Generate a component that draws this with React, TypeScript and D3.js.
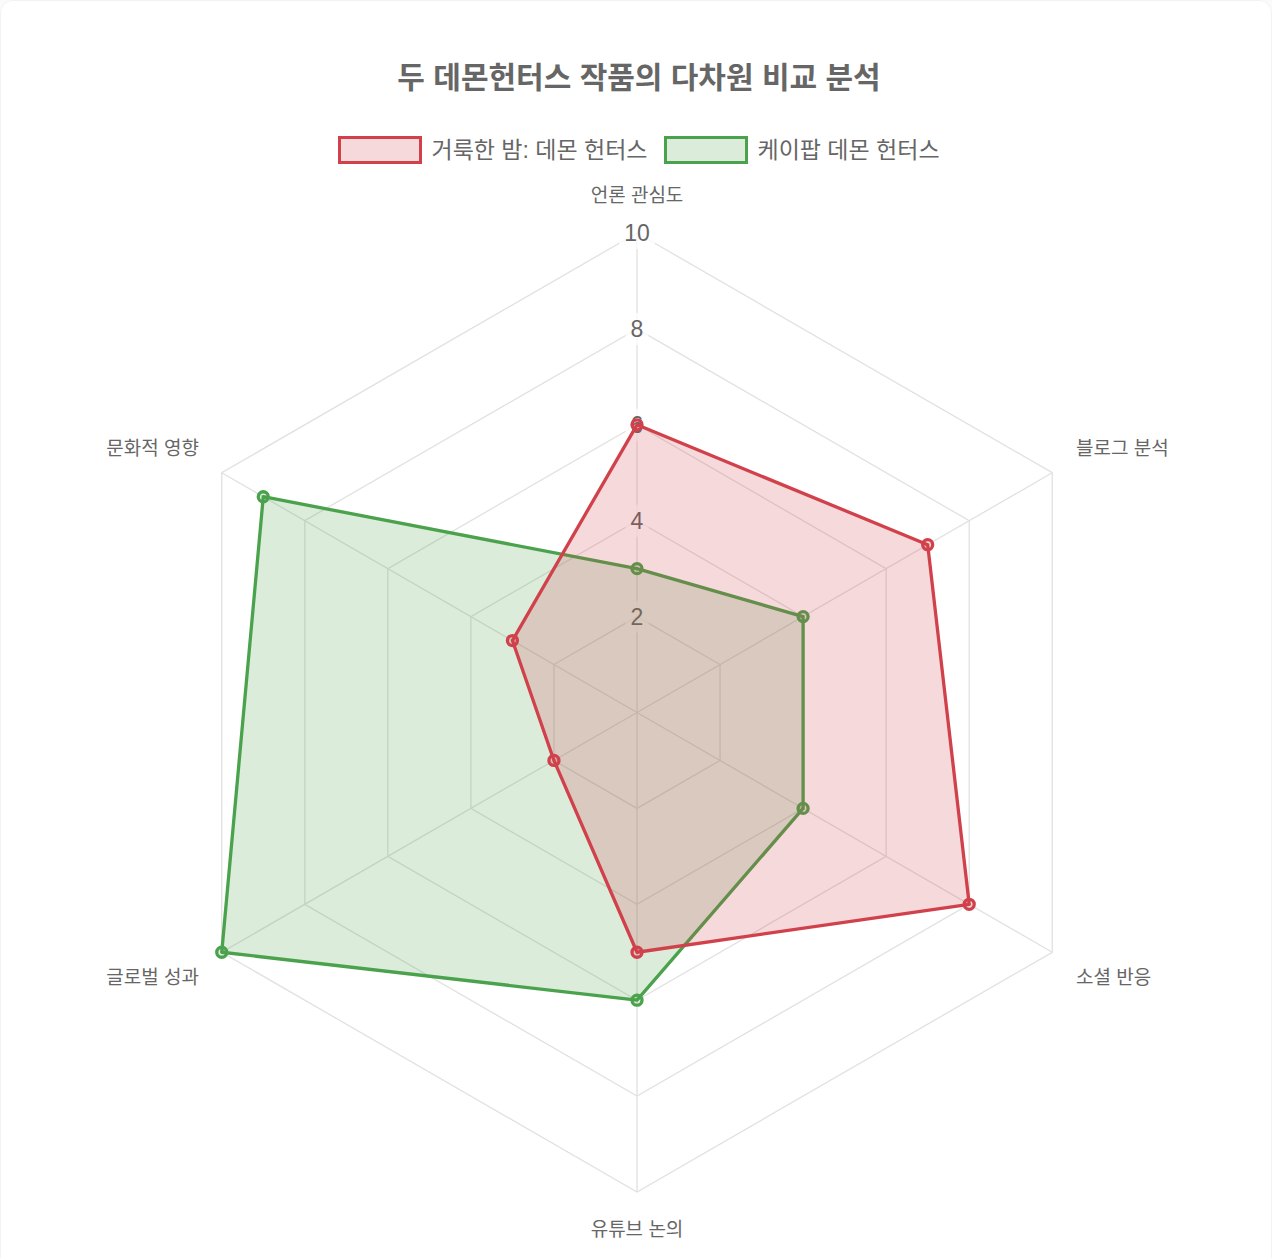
import React, { useEffect, useRef } from 'react'
import * as d3 from 'd3'

const W = 1272
const H = 1258

const title = '두 데몬헌터스 작품의 다차원 비교 분석'
const axes = ['언론 관심도', '블로그 분석', '소셜 반응', '유튜브 논의', '글로벌 성과', '문화적 영향']
const seriesNames = ['거룩한 밤: 데몬 헌터스', '케이팝 데몬 헌터스']
const holyNight = [6, 7, 8, 5, 2, 3]
const kpop = [3, 4, 4, 6, 10, 9]
const ticks = [2, 4, 6, 8, 10]

const colors = ['#d1414b', '#4ba24c']
const fills = ['rgba(209, 65, 75, 0.2)', 'rgba(75, 162, 76, 0.2)']
const textColor = '#666'
const gridColor = '#e1e1e1'
const font = "'Helvetica Neue', Helvetica, Arial, 'Noto Sans CJK KR', sans-serif"

const App: React.FC = () => {
    const ref = useRef<SVGSVGElement>(null)
    useEffect(() => {
        const svg = d3.select(ref.current)
        svg.selectAll('*').remove()
        const cx = 637
        const cy = 712.5
        const r = d3.scaleLinear().domain([0, 10]).range([0, 479.5])
        const angle = (i: number) => (i * 2 * Math.PI) / axes.length - Math.PI / 2
        const pt = (i: number, v: number): [number, number] => [
            cx + r(v) * Math.cos(angle(i)),
            cy + r(v) * Math.sin(angle(i))
        ]

        // card
        svg.append('rect')
            .attr('x', 0.5).attr('y', 0.5)
            .attr('width', W - 1).attr('height', H + 20)
            .attr('rx', 12)
            .attr('fill', '#fff')
            .attr('stroke', '#f3f3f3')

        svg.append('text')
            .attr('x', cx + 2).attr('y', 77)
            .attr('text-anchor', 'middle').attr('dominant-baseline', 'central')
            .attr('font-size', 30).attr('font-weight', 'bold')
            .attr('fill', textColor)
            .text(title)

        // legend
        const legend = svg.append('g')
        const items = [
            { x: 339.5, name: seriesNames[0] },
            { x: 665.5, name: seriesNames[1] }
        ]
        items.forEach((it, i) => {
            legend.append('rect')
                .attr('x', it.x).attr('y', 137.5)
                .attr('width', 81).attr('height', 25)
                .attr('fill', fills[i]).attr('stroke', colors[i]).attr('stroke-width', 3)
            legend.append('text')
                .attr('x', it.x + 92).attr('y', 150)
                .attr('dominant-baseline', 'central')
                .attr('font-size', 23).attr('fill', textColor)
                .text(it.name)
        })

        const grid = svg.append('g')
        const line = d3.line<[number, number]>().curve(d3.curveLinearClosed)
        ticks.forEach((t) => {
            grid.append('path')
                .attr('d', line(axes.map((_, i) => pt(i, t))))
                .attr('fill', 'none').attr('stroke', gridColor).attr('stroke-width', 1.3)
        })
        axes.forEach((_, i) => {
            const [x, y] = pt(i, 10)
            grid.append('line')
                .attr('x1', cx).attr('y1', cy).attr('x2', x).attr('y2', y)
                .attr('stroke', gridColor).attr('stroke-width', 1.3)
        })

        // tick labels with backdrop
        ticks.forEach((t) => {
            const y = cy - r(t)
            const w = t >= 10 ? 36 : 23
            grid.append('rect')
                .attr('x', cx - w / 2).attr('y', y - 16)
                .attr('width', w).attr('height', 32)
                .attr('fill', 'rgba(255,255,255,0.75)')
            grid.append('text')
                .attr('x', cx).attr('y', y)
                .attr('text-anchor', 'middle').attr('dominant-baseline', 'central')
                .attr('font-size', 23).attr('fill', textColor)
                .text(t)
        })

        // point labels
        const labelPos = [
            { x: cx, y: 195, anchor: 'middle' },
            { x: 1076, y: 448, anchor: 'start' },
            { x: 1076, y: 977, anchor: 'start' },
            { x: cx, y: 1229, anchor: 'middle' },
            { x: 199, y: 977, anchor: 'end' },
            { x: 199, y: 448, anchor: 'end' }
        ]
        axes.forEach((a, i) => {
            svg.append('text')
                .attr('x', labelPos[i].x).attr('y', labelPos[i].y)
                .attr('text-anchor', labelPos[i].anchor)
                .attr('dominant-baseline', 'central')
                .attr('font-size', 19).attr('fill', textColor)
                .text(a)
        })

        // datasets: last drawn first
        const data = [holyNight, kpop]
        const order = [1, 0]
        order.forEach((k) => {
            const g = svg.append('g')
            const pts = data[k].map((v, i) => pt(i, v))
            g.append('path')
                .attr('d', line(pts))
                .attr('fill', fills[k])
                .attr('stroke', colors[k]).attr('stroke-width', 3.3)
                .attr('stroke-linejoin', 'round')
            g.selectAll('circle')
                .data(pts)
                .join('circle')
                .attr('cx', (d) => d[0]).attr('cy', (d) => d[1])
                .attr('r', 5)
                .attr('fill', fills[k])
                .attr('stroke', colors[k]).attr('stroke-width', 3.3)
        })
    }, [])
    return (
        <svg
            ref={ref}
            width={W}
            height={H}
            viewBox={`0 0 ${W} ${H}`}
            style={{ position: 'absolute', left: 0, top: 0, fontFamily: font, background: '#fafafa' }}
        />
    )
}

export default App
